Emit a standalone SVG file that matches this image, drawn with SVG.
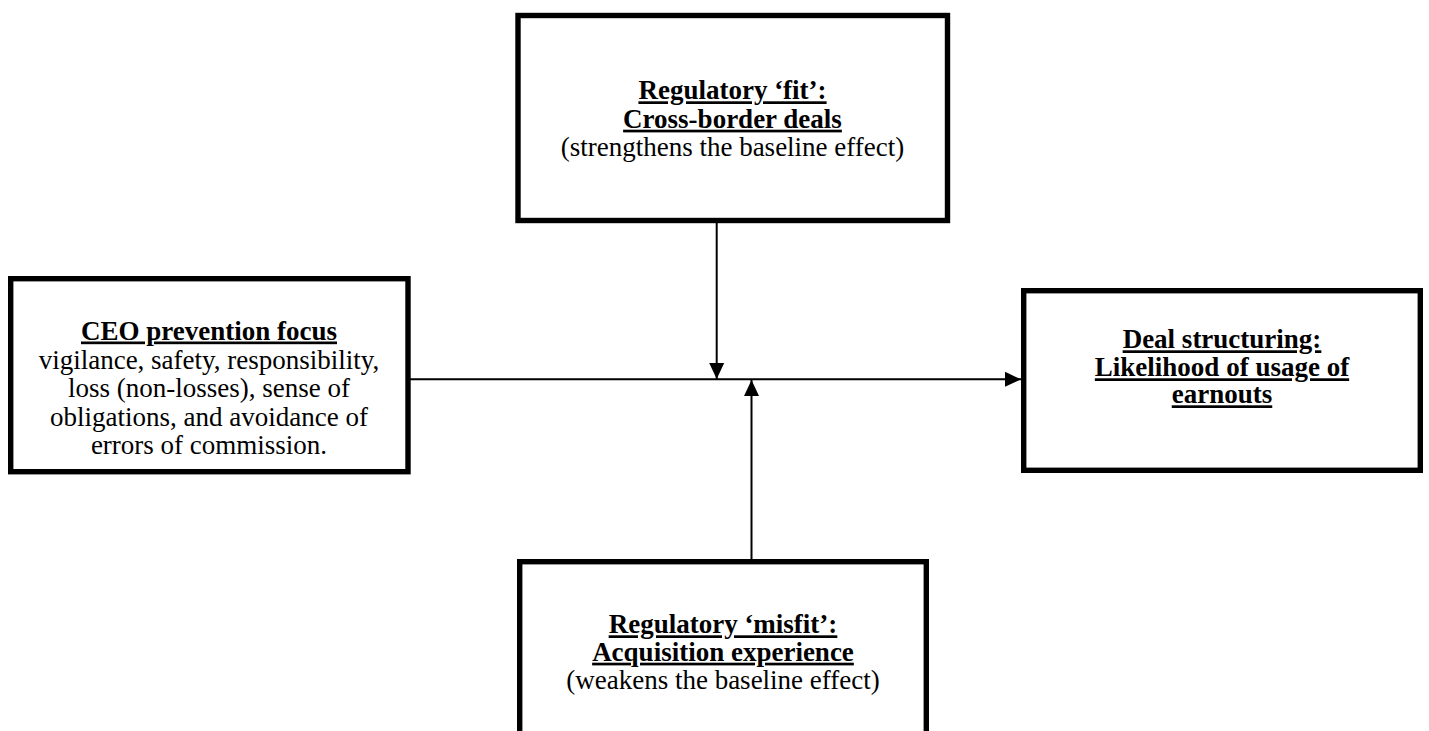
<svg xmlns="http://www.w3.org/2000/svg" width="1429" height="731" viewBox="0 0 1429 731">
<style>
.box{fill:#fff;stroke:#000;stroke-width:5.4}
text{font-family:"Liberation Serif","Times New Roman",serif;font-size:27px;fill:#000;text-anchor:middle}
.b{font-weight:bold;text-decoration:underline}
.conn{stroke:#000;stroke-width:2;fill:none}
</style>
<defs>
<marker id="ah" markerWidth="16" markerHeight="16" viewBox="0 0 16 16" refX="16" refY="8" orient="auto" markerUnits="userSpaceOnUse">
<path d="M0,0.5 L16,8 L0,15.5 Z" fill="#000"/>
</marker>
</defs>
<rect width="1429" height="731" fill="#fff"/>
<g id="connectors">
<line class="conn" x1="410" y1="379.3" x2="1021" y2="379.3" marker-end="url(#ah)"/>
<line class="conn" x1="716.7" y1="223" x2="716.7" y2="379" marker-end="url(#ah)"/>
<line class="conn" x1="751.5" y1="559" x2="751.5" y2="380" marker-end="url(#ah)"/>
</g>
<g id="node-fit">
<rect class="box" x="518" y="15.5" width="429.5" height="205"/>
<text x="732.5" y="99.3" class="b">Regulatory ‘fit’:</text>
<text x="732.5" y="127.7" class="b">Cross-border deals</text>
<text x="732.5" y="156">(strengthens the baseline effect)</text>
</g>
<g id="node-ceo">
<rect class="box" x="10.7" y="278.7" width="397.3" height="193"/>
<text x="209" y="339.5" class="b">CEO prevention focus</text>
<text x="209" y="368.8">vigilance, safety, responsibility,</text>
<text x="209" y="397.3">loss (non-losses), sense of</text>
<text x="209" y="425.7">obligations, and avoidance of</text>
<text x="209" y="454">errors of commission.</text>
</g>
<g id="node-deal">
<rect class="box" x="1023.7" y="290.7" width="396.6" height="179.6"/>
<text x="1222" y="348.3" class="b">Deal structuring:</text>
<text x="1222" y="376.3" class="b">Likelihood of usage of</text>
<text x="1222" y="403.3" class="b">earnouts</text>
</g>
<g id="node-misfit">
<rect class="box" x="519.7" y="561.7" width="406.6" height="200"/>
<text x="723" y="633.3" class="b">Regulatory ‘misfit’:</text>
<text x="723" y="660.7" class="b">Acquisition experience</text>
<text x="723" y="689.3">(weakens the baseline effect)</text>
</g>
</svg>
